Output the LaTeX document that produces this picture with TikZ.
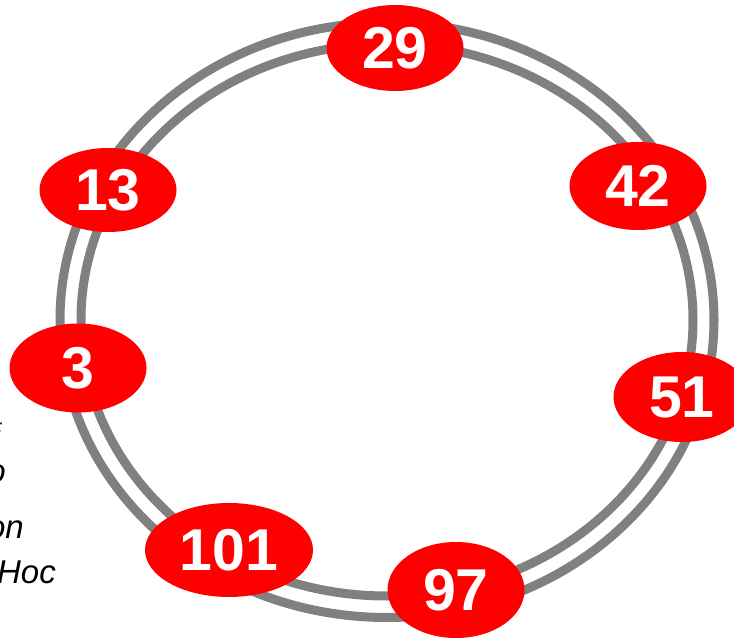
\documentclass[tikz,border=0pt]{standalone}
\usepackage{fontspec}
\setmainfont{Liberation Sans}
\usetikzlibrary{shapes.geometric}
\definecolor{ringGray}{RGB}{128,128,128}
\definecolor{peerRed}{RGB}{255,0,0}

\begin{document}
\begin{tikzpicture}[x=1pt, y=-1pt,
  peer/.style={ellipse, fill=peerRed, inner sep=0pt,
               minimum width=137pt, minimum height=#1,
               text=white, font=\fontsize{59}{60}\selectfont\bfseries},
  peer/.default=88pt,
  ring/.style={draw=ringGray, line width=9pt},
  note/.style={anchor=base east, inner sep=0pt,
               font=\fontsize{33}{36}\selectfont\itshape}
]
  \useasboundingbox (0,0) rectangle (734,639);

  % the double ring
  \draw[ring] (387,320) ellipse [x radius=327pt, y radius=297.5pt];
  \draw[ring] (387,320) ellipse [x radius=306pt, y radius=276pt];

  % cut-off notes on the left
  \node[note, font=\fontsize{18}{20}\selectfont\itshape] (n1) at (3,432) {:};
  \node[note] (n2) at (6,482) {o};
  \node[note] (n3) at (24,538) {on};
  \node[note] (n4) at (56,583) {Hoc};

  % peers on the ring
  \node[peer=86pt] (P29)  at (395,48)  {29};
  \node[peer=84pt] (P13)  at (108,190) {13};
  \node[peer]      (P42)  at (638,186) {42};
  \node[peer=89pt] (P3)   at (78,368)  {3};
  \node[peer=90pt] (P51)  at (682,397) {51};
  \node[peer=94pt, minimum width=168pt] (P101) at (229,550) {101};
  \node[peer=96pt] (P97)  at (456,590) {97};
\end{tikzpicture}
\end{document}
